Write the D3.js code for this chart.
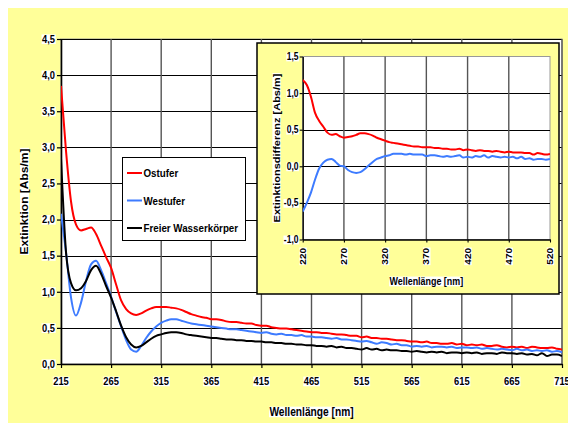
<!DOCTYPE html>
<html>
<head>
<meta charset="utf-8">
<script src="https://cdn.jsdelivr.net/npm/d3@7"></script>
<style>
  html, body { margin: 0; padding: 0; background: #fff; }
  svg { display: block; }
  text { font-family: "Liberation Sans", Arial, sans-serif; font-weight: bold; fill: #000; }
</style>
</head>
<body>
<svg id="chart" width="568" height="423"></svg>
<script>
// ---- Main spectra: extinction [Abs/m], sampled every 5 nm from 215 to 715 nm ----
const wavelengths = d3.range(215, 716, 5);

const ostufer = [
  3.85, 2.95, 2.25, 1.93, 1.85, 1.87, 1.89, 1.80, 1.64, 1.48,
  1.33, 1.10, 0.88, 0.76, 0.70, 0.68, 0.70, 0.74, 0.77, 0.79,
  0.79, 0.79, 0.78, 0.77, 0.75, 0.72, 0.69, 0.67, 0.65, 0.64,
  0.62, 0.62, 0.61, 0.59, 0.58, 0.58, 0.57, 0.56, 0.56, 0.54,
  0.53, 0.53, 0.51, 0.50, 0.49, 0.49, 0.48, 0.47, 0.46, 0.45,
  0.44, 0.44, 0.43, 0.43, 0.42, 0.41, 0.41, 0.40, 0.39, 0.39,
  0.37, 0.38, 0.36, 0.36, 0.35, 0.35, 0.34, 0.33, 0.33, 0.32,
  0.31, 0.31, 0.30, 0.31, 0.29, 0.29, 0.28, 0.28, 0.29, 0.27,
  0.28, 0.26, 0.27, 0.26, 0.27, 0.25, 0.25, 0.26, 0.24, 0.23,
  0.24, 0.23, 0.24, 0.22, 0.24, 0.23, 0.22, 0.22, 0.23, 0.21,
  0.20
];

const westufer = [
  2.08, 1.55, 0.92, 0.67, 0.85, 1.15, 1.38, 1.43, 1.30, 1.12,
  0.93, 0.72, 0.52, 0.33, 0.20, 0.17, 0.25, 0.36, 0.45, 0.52,
  0.57, 0.60, 0.62, 0.62, 0.60, 0.58, 0.56, 0.55, 0.54, 0.53,
  0.52, 0.51, 0.50, 0.49, 0.48, 0.48, 0.47, 0.46, 0.45, 0.44,
  0.43, 0.44, 0.42, 0.41, 0.42, 0.40, 0.40, 0.39, 0.40, 0.38,
  0.38, 0.37, 0.37, 0.36, 0.35, 0.36, 0.34, 0.34, 0.33, 0.32,
  0.31, 0.32, 0.30, 0.28, 0.30, 0.29, 0.27, 0.28, 0.26, 0.26,
  0.24, 0.25, 0.24, 0.25, 0.23, 0.24, 0.24, 0.23, 0.24, 0.22,
  0.23, 0.23, 0.22, 0.23, 0.21, 0.22, 0.21, 0.20, 0.21, 0.20,
  0.19, 0.21, 0.19, 0.20, 0.18, 0.19, 0.18, 0.19, 0.17, 0.18,
  0.16
];

const freierWasserkoerper = [
  2.85, 1.55, 1.12, 1.02, 1.05, 1.15, 1.30, 1.36, 1.25, 1.08,
  0.92, 0.73, 0.53, 0.37, 0.27, 0.23, 0.25, 0.30, 0.35, 0.39,
  0.41, 0.43, 0.44, 0.44, 0.43, 0.41, 0.40, 0.39, 0.38, 0.37,
  0.36, 0.36, 0.35, 0.34, 0.34, 0.33, 0.33, 0.32, 0.32, 0.31,
  0.31, 0.30, 0.30, 0.29, 0.29, 0.28, 0.28, 0.27, 0.27, 0.26,
  0.26, 0.25, 0.25, 0.24, 0.25, 0.23, 0.24, 0.22, 0.22, 0.21,
  0.20, 0.22, 0.20, 0.21, 0.19, 0.20, 0.19, 0.19, 0.18, 0.18,
  0.17, 0.18, 0.17, 0.16, 0.17, 0.16, 0.17, 0.15, 0.16, 0.16,
  0.15, 0.16, 0.15, 0.16, 0.14, 0.15, 0.15, 0.14, 0.16, 0.15,
  0.15, 0.14, 0.15, 0.13, 0.14, 0.12, 0.15, 0.11, 0.13, 0.13,
  0.11
];

const seriesNames = ["Ostufer", "Westufer", "Freier Wasserkörper"];
const seriesColors = ["#ff0000", "#3d7bff", "#000000"];
const xTicks = [215, 265, 315, 365, 415, 465, 515, 565, 615, 665, 715];
const yTicks = [0, 0.5, 1.0, 1.5, 2.0, 2.5, 3.0, 3.5, 4.0, 4.5];

// ---- Difference spectra (shore minus open water), every 5 nm from 220 to 520 nm ----
const diffWavelengths = d3.range(220, 521, 5);

const diffOstufer = [
  1.18, 1.11, 0.95, 0.73, 0.62, 0.54, 0.46, 0.43, 0.44, 0.41,
  0.39, 0.40, 0.41, 0.43, 0.45, 0.45, 0.44, 0.42, 0.39, 0.37,
  0.35, 0.33, 0.32, 0.31, 0.30, 0.29, 0.28, 0.27, 0.27, 0.26,
  0.26, 0.26, 0.25, 0.25, 0.24, 0.24, 0.23, 0.23, 0.24, 0.22,
  0.23, 0.22, 0.21, 0.22, 0.21, 0.21, 0.20, 0.21, 0.20, 0.19,
  0.20, 0.19, 0.19, 0.19, 0.18, 0.18, 0.16, 0.18, 0.17, 0.16,
  0.17
];

const diffWestufer = [
  -0.62, -0.50, -0.36, -0.18, -0.03, 0.05, 0.09, 0.10, 0.06, 0.01,
  0.00, -0.05, -0.08, -0.09, -0.08, -0.04, 0.01, 0.06, 0.10, 0.12,
  0.14, 0.15, 0.17, 0.17, 0.17, 0.16, 0.17, 0.16, 0.16, 0.16,
  0.14, 0.15, 0.15, 0.14, 0.13, 0.14, 0.13, 0.14, 0.15, 0.12,
  0.13, 0.12, 0.14, 0.13, 0.15, 0.12, 0.14, 0.13, 0.12, 0.13,
  0.12, 0.13, 0.11, 0.13, 0.10, 0.11, 0.09, 0.10, 0.10, 0.09,
  0.10
];

const diffNames = ["Ostufer", "Westufer"];
const diffColors = ["#ff0000", "#3d7bff"];
const diffXTicks = [220, 270, 320, 370, 420, 470, 520];
const diffYTicks = [-1.0, -0.5, 0, 0.5, 1.0, 1.5];

// ---------------------------------------------------------------------------
const svg = d3.select("#chart");
const SX = 0.85;                         // horizontal squeeze of all lettering
const fmt = v => v.toFixed(1).replace(".", ",");

// text with a tight white backing box, squeezed horizontally
function label(parent, x, y, str, opt = {}) {
  const size = opt.size || 11, anchor = opt.anchor || "middle", rot = opt.rotate || 0;
  const g = parent.append("g")
    .attr("transform", `translate(${x},${y}) scale(${SX},1) rotate(${rot})`);
  const t = g.append("text")
    .attr("font-size", size)
    .attr("text-anchor", anchor)
    .text(str);
  const b = t.node().getBBox();
  const top = b.y + size * 0.12, bot = b.y + b.height - size * 0.08;
  g.insert("rect", "text")
    .attr("x", b.x - 0.5).attr("y", top)
    .attr("width", b.width + 1).attr("height", bot - top)
    .attr("fill", "#fff");
  return g;
}

// page background
svg.append("rect").attr("width", 568).attr("height", 423).attr("fill", "#fff");
svg.append("rect").attr("x", 8).attr("y", 8).attr("width", 560).attr("height", 415).attr("fill", "#ffff99");

// ---------------- main chart ----------------
const M = { left: 61, right: 562, top: 39, bottom: 364 };
const x = d3.scaleLinear().domain([215, 715]).range([M.left, M.right]);
const y = d3.scaleLinear().domain([0, 4.5]).range([M.bottom, M.top]);

svg.append("rect")
  .attr("x", M.left).attr("y", M.top)
  .attr("width", M.right - M.left).attr("height", M.bottom - M.top)
  .attr("fill", "#fff").attr("stroke", "#999").attr("stroke-width", 1);

const grid = svg.append("g");
grid.selectAll("line.h").data(yTicks.filter(v => v > 0)).join("line")
  .attr("x1", M.left).attr("x2", M.right)
  .attr("y1", d => Math.round(y(d)) + 0.5).attr("y2", d => Math.round(y(d)) + 0.5)
  .attr("stroke", "#000").attr("stroke-width", 1);
grid.selectAll("line.v").data(xTicks.slice(1)).join("line")
  .attr("x1", d => x(d)).attr("x2", d => x(d))
  .attr("y1", M.top).attr("y2", M.bottom)
  .attr("stroke", "#555").attr("stroke-width", 1.4);

// axes (lines and tick marks only; labels are drawn with backing boxes)
const yAxis = svg.append("g").attr("transform", `translate(${M.left},0)`)
  .call(d3.axisLeft(y).tickValues(yTicks).tickSize(4).tickSizeOuter(0).tickFormat(""));
const xAxis = svg.append("g").attr("transform", `translate(0,${M.bottom})`)
  .call(d3.axisBottom(x).tickValues(xTicks).tickSize(4).tickSizeOuter(0).tickFormat(""));
[yAxis, xAxis].forEach(a => {
  a.select(".domain").attr("stroke", "#000").attr("stroke-width", 1.6);
  a.selectAll(".tick line").attr("stroke", "#000").attr("stroke-width", 1.2);
});

yTicks.forEach(v => label(svg, 55, y(v) + 3.8, fmt(v), { size: 11, anchor: "end" }));
xTicks.forEach(v => label(svg, x(v), 385, String(v), { size: 11 }));

label(svg, (M.left + M.right) / 2, 416, "Wellenlänge [nm]", { size: 12 });
label(svg, 28, (M.top + M.bottom) / 2, "Extinktion [Abs/m]", { size: 12, rotate: -90 });

svg.append("clipPath").attr("id", "mainClip").append("rect")
  .attr("x", M.left).attr("y", M.top)
  .attr("width", M.right - M.left).attr("height", M.bottom - M.top);

const mainSeries = [ostufer, westufer, freierWasserkoerper];
const line = d3.line()
  .x((d, i) => x(wavelengths[i]))
  .y(d => y(d))
  .curve(d3.curveMonotoneX);

svg.append("g").attr("clip-path", "url(#mainClip)")
  .selectAll("path").data(mainSeries).join("path")
  .attr("d", d => line(d))
  .attr("fill", "none")
  .attr("stroke", (d, i) => seriesColors[i])
  .attr("stroke-width", 2)
  .attr("stroke-linejoin", "round");

// legend
const legend = svg.append("g");
legend.append("rect")
  .attr("x", 122.5).attr("y", 157.5).attr("width", 123).attr("height", 83)
  .attr("fill", "#fff").attr("stroke", "#000").attr("stroke-width", 1);
const legendY = [173, 200.5, 228];
seriesNames.forEach((name, i) => {
  legend.append("line")
    .attr("x1", 127).attr("x2", 142)
    .attr("y1", legendY[i]).attr("y2", legendY[i])
    .attr("stroke", seriesColors[i]).attr("stroke-width", 2);
  legend.append("g")
    .attr("transform", `translate(143.5,${legendY[i] + 4}) scale(${SX},1)`)
    .append("text").attr("font-size", 11.5).text(name);
});

// ---------------- inset: difference spectra ----------------
const box = { x: 257, y: 43, w: 302, h: 251 };
svg.append("rect")
  .attr("x", box.x).attr("y", box.y).attr("width", box.w).attr("height", box.h)
  .attr("fill", "#ffff99").attr("stroke", "#000").attr("stroke-width", 1.5);

const I = { left: 302.7, right: 550, top: 56.5, bottom: 239.5 };
const ix = d3.scaleLinear().domain([220, 520]).range([I.left, I.right]);
const iy = d3.scaleLinear().domain([-1.0, 1.5]).range([I.bottom, I.top]);

svg.append("rect")
  .attr("x", I.left).attr("y", I.top)
  .attr("width", I.right - I.left).attr("height", I.bottom - I.top)
  .attr("fill", "#fff").attr("stroke", "#999").attr("stroke-width", 1);

const igrid = svg.append("g");
igrid.selectAll("line.h").data(diffYTicks.filter(v => v > -1 && v < 1.5)).join("line")
  .attr("x1", I.left).attr("x2", I.right)
  .attr("y1", d => Math.round(iy(d)) + 0.5).attr("y2", d => Math.round(iy(d)) + 0.5)
  .attr("stroke", "#000").attr("stroke-width", 1);
igrid.selectAll("line.v").data(diffXTicks.slice(1, -1)).join("line")
  .attr("x1", d => ix(d)).attr("x2", d => ix(d))
  .attr("y1", I.top).attr("y2", I.bottom)
  .attr("stroke", "#555").attr("stroke-width", 1.4);

const iyAxis = svg.append("g").attr("transform", `translate(${I.left},0)`)
  .call(d3.axisLeft(iy).tickValues(diffYTicks).tickSize(3).tickSizeOuter(0).tickFormat(""));
const ixAxis = svg.append("g").attr("transform", `translate(0,${I.bottom})`)
  .call(d3.axisBottom(ix).tickValues(diffXTicks).tickSize(3).tickSizeOuter(0).tickFormat(""));
[iyAxis, ixAxis].forEach(a => {
  a.select(".domain").attr("stroke", "#000").attr("stroke-width", 1.4);
  a.selectAll(".tick line").attr("stroke", "#000").attr("stroke-width", 1.1);
});

diffYTicks.forEach(v => label(svg, 298.5, iy(v) + 3.5, fmt(v), { size: 10, anchor: "end" }));
diffXTicks.forEach(v => label(svg, ix(v) + 3, 248, String(v), { size: 10, anchor: "end", rotate: -90 }));

label(svg, (I.left + I.right) / 2, 285, "Wellenlänge [nm]", { size: 10.5 });
label(svg, 279.5, (I.top + I.bottom) / 2, "Extinktionsdifferenz [Abs/m]", { size: 11, rotate: -90 });

svg.append("clipPath").attr("id", "insetClip").append("rect")
  .attr("x", I.left).attr("y", I.top)
  .attr("width", I.right - I.left).attr("height", I.bottom - I.top);

const iline = d3.line()
  .x((d, i) => ix(diffWavelengths[i]))
  .y(d => iy(d))
  .curve(d3.curveMonotoneX);

svg.append("g").attr("clip-path", "url(#insetClip)")
  .selectAll("path").data([diffOstufer, diffWestufer]).join("path")
  .attr("d", d => iline(d))
  .attr("fill", "none")
  .attr("stroke", (d, i) => diffColors[i])
  .attr("stroke-width", 2)
  .attr("stroke-linejoin", "round");
</script>
</body>
</html>
